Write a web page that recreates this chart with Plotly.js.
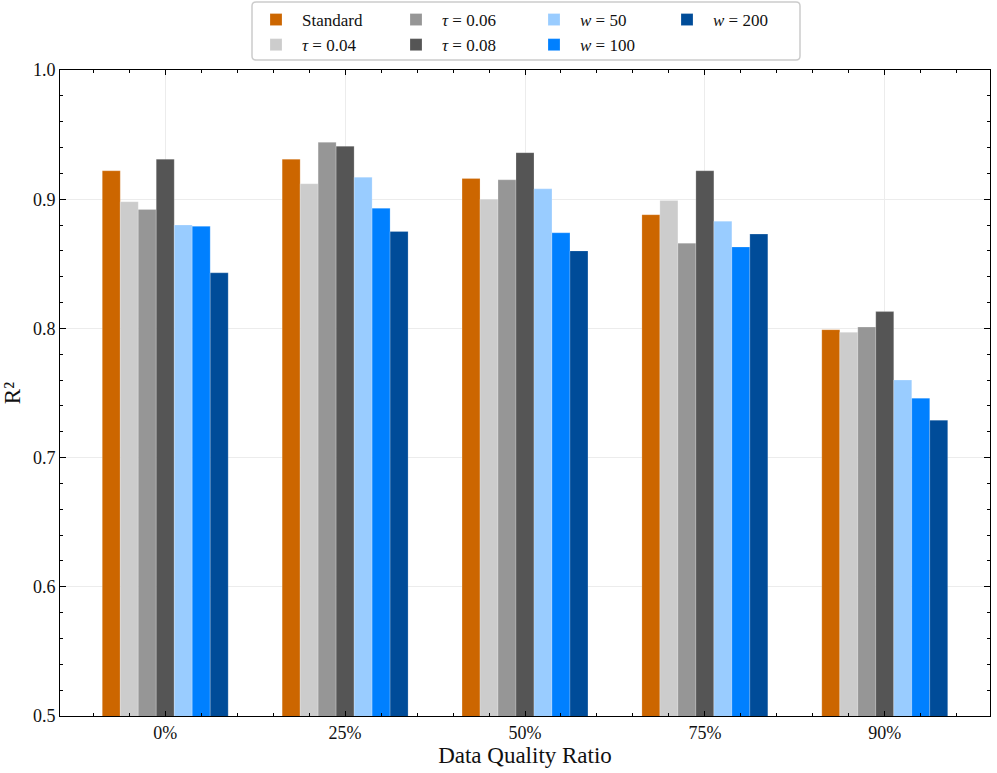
<!DOCTYPE html>
<html>
<head>
<meta charset="utf-8">
<script src="https://cdn.plot.ly/plotly-3.0.1.min.js"></script>
<style>html,body{margin:0;padding:0;background:#fff;}#chart{width:997px;height:773px;}</style>
</head>
<body>
<div id="chart"></div>
<script>
const categories = ['0%', '25%', '50%', '75%', '90%'];
const seriesNames = ['Standard', '<i>τ</i> = 0.04', '<i>τ</i> = 0.06', '<i>τ</i> = 0.08', '<i>w</i> = 50', '<i>w</i> = 100', '<i>w</i> = 200'];
const standard = [0.922, 0.931, 0.916, 0.888, 0.799];
const tau004   = [0.898, 0.912, 0.900, 0.899, 0.797];
const tau006   = [0.892, 0.944, 0.915, 0.866, 0.801];
const tau008   = [0.931, 0.941, 0.936, 0.922, 0.813];
const w50      = [0.880, 0.917, 0.908, 0.883, 0.760];
const w100     = [0.879, 0.893, 0.874, 0.863, 0.746];
const w200     = [0.843, 0.875, 0.860, 0.873, 0.729];
const yTicks = [0.5, 0.6, 0.7, 0.8, 0.9, 1.0];

const seriesValues = [standard, tau004, tau006, tau008, w50, w100, w200];
const colors = ['#cc6600', '#cccccc', '#969696', '#555555', '#99ccff', '#0080ff', '#004c99'];
// legend columns (column-major, 2 rows)
const legendIds = ['legend', 'legend', 'legend2', 'legend2', 'legend3', 'legend3', 'legend4'];

const xIdx = categories.map((_, i) => i);
const font = "'Liberation Serif', 'DejaVu Serif', serif";

const traces = seriesValues.map((vals, k) => ({
  type: 'bar',
  x: xIdx,
  y: vals,
  name: seriesNames[k],
  legend: legendIds[k],
  marker: {color: colors[k], line: {color: 'rgba(255,255,255,0.35)', width: 0.6}},
  hoverinfo: 'y+name'
}));

const W = 930, H = 646;
const px = v => (v - 60) / W;
const py = v => (716 - v) / H;
const bx0 = px(252), bx1 = px(800), by0 = py(60), by1 = py(2);
const rx = 4 / W, ry = 4 / H;
const boxPath = `M ${bx0 + rx} ${by1} L ${bx1 - rx} ${by1} Q ${bx1} ${by1} ${bx1} ${by1 - ry} L ${bx1} ${by0 + ry} Q ${bx1} ${by0} ${bx1 - rx} ${by0} L ${bx0 + rx} ${by0} Q ${bx0} ${by0} ${bx0} ${by0 + ry} L ${bx0} ${by1 - ry} Q ${bx0} ${by1} ${bx0 + rx} ${by1} Z`;

const legendBase = {
  orientation: 'v', yanchor: 'top', xanchor: 'left', y: py(2),
  bgcolor: 'rgba(0,0,0,0)', borderwidth: 0,
  font: {family: font, size: 17, color: '#111'},
  itemwidth: 42, tracegroupgap: 0
};

const axisCommon = {
  showline: true, linecolor: '#000', linewidth: 1, mirror: 'allticks',
  ticks: 'inside', tickcolor: '#000', tickwidth: 1,
  showgrid: true, gridcolor: '#ececec', gridwidth: 1,
  zeroline: false,
  tickfont: {family: font, size: 18, color: '#111'}
};

const layout = {
  width: 997, height: 773,
  margin: {l: 60, r: 7, t: 70, b: 57, autoexpand: false},
  paper_bgcolor: '#fff', plot_bgcolor: '#fff',
  barmode: 'group', bargap: 0.3, bargroupgap: 0,
  font: {family: font, color: '#111'},
  xaxis: Object.assign({}, axisCommon, {
    range: [-0.585, 4.585],
    tickmode: 'array', tickvals: xIdx, ticktext: categories,
    ticklen: 5,
    minor: {tick0: 0, dtick: 0.2, ticks: 'inside', ticklen: 3, tickcolor: '#000', showgrid: false},
    title: {text: 'Data Quality Ratio', font: {family: font, size: 23, color: '#111'}, standoff: 2}
  }),
  yaxis: Object.assign({}, axisCommon, {
    range: [0.5, 1.0],
    tickmode: 'array', tickvals: yTicks, ticktext: yTicks.map(v => v.toFixed(1)),
    ticklen: 6,
    minor: {tick0: 0.5, dtick: 0.02, ticks: 'inside', ticklen: 3, tickcolor: '#000', showgrid: false},
    title: {text: 'R²', font: {family: font, size: 23, color: '#111'}, standoff: 8}
  }),
  legend:  Object.assign({}, legendBase, {x: px(250)}),
  legend2: Object.assign({}, legendBase, {x: px(390)}),
  legend3: Object.assign({}, legendBase, {x: px(528)}),
  legend4: Object.assign({}, legendBase, {x: px(661)}),
  shapes: [{
    type: 'path', xref: 'paper', yref: 'paper', path: boxPath,
    line: {color: '#cccccc', width: 1.5}, fillcolor: 'rgba(255,255,255,1)', layer: 'above'
  }]
};

Plotly.newPlot('chart', traces, layout, {displayModeBar: false, staticPlot: true});
</script>
</body>
</html>
